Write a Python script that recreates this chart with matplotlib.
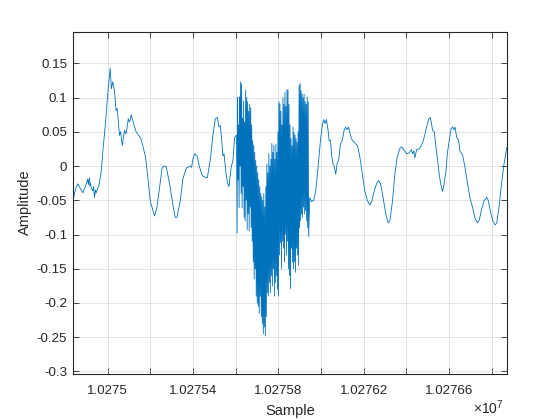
import numpy as np
import matplotlib
matplotlib.use("Agg")
import matplotlib.pyplot as plt

plt.rcParams['font.family'] = ['Liberation Sans', 'DejaVu Sans']
plt.rcParams['mathtext.fontset'] = 'custom'
plt.rcParams['mathtext.rm'] = 'Liberation Sans'
plt.rcParams['mathtext.it'] = 'Liberation Sans'

sample_base = 10274800

# smooth section before the burst: (sample offset, amplitude)
pre_s = [36, 39, 50, 59, 70, 83, 95, 106, 109, 114, 117, 119, 123, 130, 133, 138, 142, 146, 152, 158,
         169, 177, 189, 200, 211, 217, 223, 231, 239, 244, 255, 260, 268, 278, 286, 296, 302, 310, 321,
         333, 344, 354, 364, 377, 388, 399, 408, 419, 430, 443, 455, 466, 474, 490, 505, 516, 524, 540,
         552, 568, 587, 593, 599, 607, 618, 631, 643, 654, 667, 681, 693, 704, 714, 721, 728, 735, 740,
         745, 753, 761, 768, 771, 779, 787, 795, 803]
pre_a = [-0.052, -0.047, -0.032, -0.026, -0.032, -0.039, -0.030, -0.019, -0.027, -0.017, -0.029, -0.025,
         -0.032, -0.036, -0.030, -0.046, -0.035, -0.039, -0.033, -0.029, -0.009, 0.022, 0.062, 0.106,
         0.143, 0.113, 0.123, 0.111, 0.081, 0.084, 0.045, 0.050, 0.030, 0.052, 0.047, 0.069, 0.064, 0.075,
         0.062, 0.050, 0.045, 0.041, 0.030, 0.013, -0.017, -0.051, -0.061, -0.073, -0.061, -0.031, -0.002,
         0.000, -0.001, -0.026, -0.056, -0.075, -0.075, -0.051, -0.019, -0.003, 0.000, -0.002, 0.010,
         0.018, 0.015, -0.002, -0.014, -0.016, -0.017, 0.010, 0.045, 0.069, 0.071, 0.057, 0.059, 0.035,
         0.015, 0.018, -0.007, -0.024, -0.030, -0.022, -0.001, 0.008, 0.042, 0.045]

# burst section: alternating peak / trough amplitudes
burst_start, burst_end = 804, 1142
burst_hi = [0.045, 0.100, 0.060, 0.101, 0.123, 0.120, 0.070, 0.095, 0.064, 0.111, 0.100, 0.094,
            0.080, 0.090, 0.085, 0.060, 0.037, 0.030, 0.020, 0.008, 0.000, -0.010, -0.020, -0.030,
            -0.040, -0.045, -0.050, -0.040, -0.060, -0.030, 0.003, -0.010, 0.018, 0.000, 0.010, 0.033,
            0.020, 0.030, 0.010, 0.032, 0.020, 0.050, 0.094, 0.091, 0.080, 0.060, 0.100, 0.090,
            0.108, 0.087, 0.112, 0.111, 0.090, 0.060, 0.040, 0.030, 0.057, 0.049, 0.045, 0.040,
            0.035, 0.050, 0.118, 0.121, 0.110, 0.105, 0.100, 0.105, 0.094, 0.090, 0.101, 0.094]
burst_lo = [-0.098, -0.020, -0.061, 0.000, -0.040, -0.061, -0.030, -0.075, -0.080, -0.050, -0.093, -0.070,
            -0.095, -0.060, -0.090, -0.110, -0.140, -0.165, -0.150, -0.190, -0.200, -0.205, -0.215, -0.190,
            -0.220, -0.230, -0.245, -0.235, -0.248, -0.220, -0.185, -0.190, -0.170, -0.185, -0.160, -0.175,
            -0.150, -0.190, -0.170, -0.160, -0.180, -0.190, -0.130, -0.112, -0.150, -0.110, -0.120, -0.140,
            -0.100, -0.130, -0.110, -0.150, -0.160, -0.179, -0.120, -0.140, -0.150, -0.140, -0.155, -0.120,
            -0.130, -0.145, -0.090, -0.080, -0.070, -0.075, -0.060, -0.070, -0.065, -0.080, -0.090, -0.103]

# smooth section after the burst
post_s = [1147, 1155, 1166, 1175, 1186, 1197, 1207, 1213, 1219, 1225, 1233, 1238, 1244, 1250, 1256, 1261,
          1269, 1275, 1283, 1291, 1299, 1308, 1316, 1322, 1329, 1338, 1347, 1355, 1363, 1371, 1382, 1394,
          1405, 1418, 1429, 1438, 1447, 1460, 1470, 1479, 1491, 1504, 1515, 1523, 1535, 1546, 1557, 1570,
          1580, 1588, 1601, 1613, 1624, 1629, 1635, 1640, 1648, 1660, 1671, 1682, 1695, 1704, 1712, 1718,
          1723, 1731, 1739, 1745, 1754, 1761, 1770, 1776, 1786, 1792, 1801, 1809, 1817, 1823, 1828, 1836,
          1845, 1851, 1864, 1875, 1886, 1898, 1911, 1922, 1933, 1942, 1953, 1964, 1977, 1984, 1992, 2005,
          2016, 2024, 2036, 2047, 2058, 2067, 2071]
post_a = [-0.046, -0.052, -0.050, -0.036, -0.002, 0.037, 0.062, 0.068, 0.062, 0.068, 0.052, 0.037, 0.038,
          0.015, 0.003, 0.001, -0.012, 0.003, 0.010, 0.032, 0.037, 0.052, 0.057, 0.053, 0.057, 0.045, 0.037,
          0.035, 0.032, 0.030, 0.013, -0.012, -0.036, -0.051, -0.057, -0.051, -0.039, -0.026, -0.021,
          -0.026, -0.046, -0.071, -0.083, -0.080, -0.051, -0.012, 0.013, 0.026, 0.028, 0.024, 0.018, 0.019,
          0.024, 0.018, 0.022, 0.012, 0.024, 0.025, 0.030, 0.040, 0.057, 0.068, 0.071, 0.062, 0.052, 0.050,
          0.027, 0.013, -0.012, -0.026, -0.037, -0.028, -0.007, 0.018, 0.037, 0.054, 0.057, 0.053, 0.057,
          0.042, 0.038, 0.022, 0.016, -0.002, -0.024, -0.046, -0.061, -0.076, -0.083, -0.079, -0.063, -0.051,
          -0.046, -0.050, -0.063, -0.080, -0.086, -0.083, -0.056, -0.024, 0.003, 0.020, 0.027]

x_ticks = [10275000, 10275200, 10275400, 10275600, 10275800, 10276000, 10276200, 10276400, 10276600, 10276800]
x_tick_labels = ['1.0275', '', '1.02754', '', '1.02758', '', '1.02762', '', '1.02766', '']
y_ticks = [-0.3, -0.25, -0.2, -0.15, -0.1, -0.05, 0, 0.05, 0.1, 0.15]
y_tick_labels = ['-0.3', '-0.25', '-0.2', '-0.15', '-0.1', '-0.05', '0', '0.05', '0.1', '0.15']

burst_vals = []
for h, l in zip(burst_hi, burst_lo):
    burst_vals += [h, l]
burst_s = np.linspace(burst_start, burst_end, len(burst_vals))

xs = np.concatenate([np.array(pre_s, float), burst_s, np.array(post_s, float)]) + sample_base
ys = np.concatenate([pre_a, burst_vals, post_a])

fig = plt.figure(figsize=(5.6, 4.2), dpi=100)
ax = fig.add_axes([0.13, 0.11, 0.775, 0.815])
ax.plot(xs, ys, color='#0072BD', linewidth=0.6)

ax.set_xlim(10274836, 10276871)
ax.set_ylim(-0.3034, 0.1965)
ax.set_xticks(x_ticks)
ax.set_xticklabels(x_tick_labels)
ax.set_yticks(y_ticks)
ax.set_yticklabels(y_tick_labels)

axcol = '#262626'
ax.grid(True, color='#dfdfdf', linewidth=0.6)
ax.set_axisbelow(True)
for sp in ax.spines.values():
    sp.set_color(axcol)
    sp.set_linewidth(0.8)
ax.tick_params(direction='in', length=4, width=0.6, colors=axcol, labelsize=9.6,
               top=True, right=True)
ax.tick_params(axis='x', pad=8)
ax.tick_params(axis='y', pad=4)

ax.set_xlabel('Sample', fontsize=10.5, color=axcol, labelpad=5)
ax.set_ylabel('Amplitude', fontsize=10.5, color=axcol, labelpad=3)
fig.text(0.872, 0.008, r'$\times\mathregular{10}^{7}$', fontsize=10, color=axcol, ha='center', va='bottom')

fig.savefig('out.png', dpi=100)
